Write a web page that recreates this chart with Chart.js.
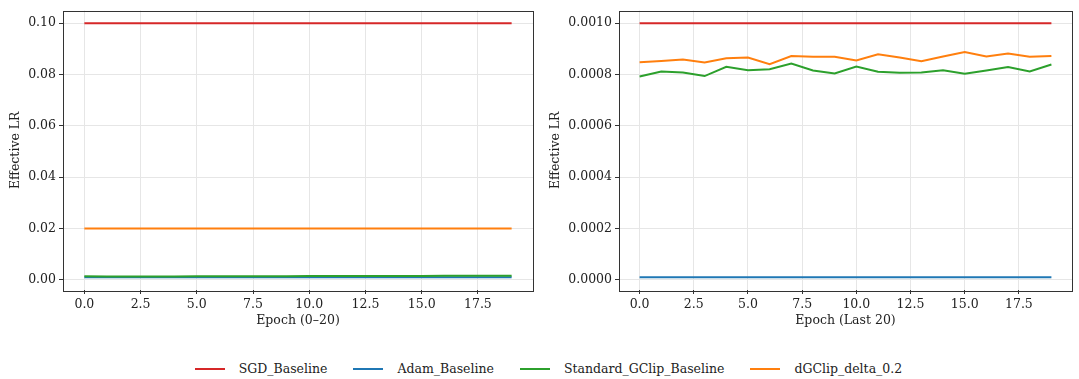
<!DOCTYPE html>
<html>
<head>
<meta charset="utf-8">
<script src="https://cdn.jsdelivr.net/npm/chart.js@4/dist/chart.umd.min.js"></script>
<style>
    html, body { margin: 0; padding: 0; background: #fff; }
    body { width: 1079px; height: 379px; position: relative; overflow: hidden; font-family: "DejaVu Serif", serif; }
    .panel { position: absolute; top: 0; height: 335px; }
    #left-panel { left: 0; width: 540px; }
    #right-panel { left: 540px; width: 539px; }
    #legend { position: absolute; top: 361px; left: 9px; width: 1079px; display: flex; justify-content: center; font-size: 12.5px; color: #222; }
    .item { display: flex; align-items: center; margin: 0 13px; }
    .swatch { width: 30px; height: 2px; margin-right: 14px; }
</style>
</head>
<body>
<div class="panel" id="left-panel"><canvas id="leftChart"></canvas></div>
<div class="panel" id="right-panel"><canvas id="rightChart"></canvas></div>
<div id="legend"></div>

<script>
// Data
const epochs = [0, 1, 2, 3, 4, 5, 6, 7, 8, 9, 10, 11, 12, 13, 14, 15, 16, 17, 18, 19];
const seriesNames = ['SGD_Baseline', 'Adam_Baseline', 'Standard_GClip_Baseline', 'dGClip_delta_0.2'];
const seriesColors = ['#d62728', '#1f77b4', '#2ca02c', '#ff7f0e'];

// Epoch (0-20)
const firstSgd = [0.1, 0.1, 0.1, 0.1, 0.1, 0.1, 0.1, 0.1, 0.1, 0.1, 0.1, 0.1, 0.1, 0.1, 0.1, 0.1, 0.1, 0.1, 0.1, 0.1];
const firstAdam = [0.001, 0.001, 0.001, 0.001, 0.001, 0.001, 0.001, 0.001, 0.001, 0.001, 0.001, 0.001, 0.001, 0.001, 0.001, 0.001, 0.001, 0.001, 0.001, 0.001];
const firstGclip = [0.0014, 0.0013, 0.0013, 0.0013, 0.0013, 0.0014, 0.0014, 0.0014, 0.0014, 0.0014, 0.0015, 0.0015, 0.0015, 0.0015, 0.0015, 0.0015, 0.0016, 0.0016, 0.0016, 0.0016];
const firstDgclip = [0.02, 0.02, 0.02, 0.02, 0.02, 0.02, 0.02, 0.02, 0.02, 0.02, 0.02, 0.02, 0.02, 0.02, 0.02, 0.02, 0.02, 0.02, 0.02, 0.02];

// Epoch (Last 20)
const lastSgd = [0.001, 0.001, 0.001, 0.001, 0.001, 0.001, 0.001, 0.001, 0.001, 0.001, 0.001, 0.001, 0.001, 0.001, 0.001, 0.001, 0.001, 0.001, 0.001, 0.001];
const lastAdam = [0.00001, 0.00001, 0.00001, 0.00001, 0.00001, 0.00001, 0.00001, 0.00001, 0.00001, 0.00001, 0.00001, 0.00001, 0.00001, 0.00001, 0.00001, 0.00001, 0.00001, 0.00001, 0.00001, 0.00001];
const lastGclip = [0.000792, 0.000812, 0.000808, 0.000794, 0.000830, 0.000817, 0.000821, 0.000843, 0.000816, 0.000804, 0.000831, 0.000811, 0.000807, 0.000808, 0.000817, 0.000803, 0.000816, 0.000829, 0.000812, 0.000839];
const lastDgclip = [0.000848, 0.000853, 0.000859, 0.000847, 0.000863, 0.000866, 0.000840, 0.000872, 0.000869, 0.000869, 0.000855, 0.000879, 0.000866, 0.000852, 0.000870, 0.000888, 0.000870, 0.000882, 0.000869, 0.000872];

const xTicks = [0, 2.5, 5, 7.5, 10, 12.5, 15, 17.5];
const firstYTicks = [0, 0.02, 0.04, 0.06, 0.08, 0.1];
const lastYTicks = [0, 0.0002, 0.0004, 0.0006, 0.0008, 0.001];

const FONT = { family: '"DejaVu Serif", serif', size: 12.5 };

// matplotlib-style box around the plot area
const framePlugin = {
    id: 'frame',
    afterDraw(chart) {
        const a = chart.chartArea;
        const ctx = chart.ctx;
        ctx.save();
        ctx.strokeStyle = '#333';
        ctx.lineWidth = 1;
        ctx.strokeRect(Math.round(a.left) + 0.5, Math.round(a.top) + 0.5,
            Math.round(a.right - a.left), Math.round(a.bottom - a.top));
        ctx.restore();
    }
};

function makeChart(id, seriesList, yTicks, yMin, yMax, decimals, xTitle, yAxisWidth) {
    const datasets = seriesList.map((values, i) => ({
        label: seriesNames[i],
        data: epochs.map((e, j) => ({ x: e, y: values[j] })),
        borderColor: seriesColors[i],
        backgroundColor: seriesColors[i],
        borderWidth: 2,
        pointRadius: 0,
        tension: 0,
        order: seriesList.length - i
    }));

    return new Chart(document.getElementById(id), {
        type: 'line',
        data: { datasets },
        plugins: [framePlugin],
        options: {
            responsive: true,
            maintainAspectRatio: false,
            animation: false,
            layout: { padding: { top: 7, right: 7, left: 0, bottom: 0 } },
            plugins: {
                legend: { display: false },
                tooltip: { enabled: false }
            },
            scales: {
                x: {
                    type: 'linear',
                    min: -0.95,
                    max: 19.95,
                    afterBuildTicks: scale => { scale.ticks = xTicks.map(v => ({ value: v })); },
                    afterFit: scale => { scale.height = 45; },
                    ticks: {
                        color: '#222',
                        font: FONT,
                        padding: 3,
                        maxRotation: 0,
                        callback: v => v.toFixed(1)
                    },
                    grid: { color: '#e6e6e6', tickColor: '#333', tickLength: 4 },
                    border: { display: false },
                    title: { display: true, text: xTitle, color: '#222', font: FONT, padding: { top: 0, bottom: 7 } }
                },
                y: {
                    min: yMin,
                    max: yMax,
                    afterBuildTicks: scale => { scale.ticks = yTicks.map(v => ({ value: v })); },
                    afterFit: scale => { scale.width = yAxisWidth; },
                    ticks: {
                        color: '#222',
                        font: FONT,
                        padding: 3,
                        callback: v => v.toFixed(decimals)
                    },
                    grid: { color: '#e6e6e6', tickColor: '#333', tickLength: 4 },
                    border: { display: false },
                    title: { display: true, text: 'Effective LR', color: '#222', font: FONT, padding: { top: 8, bottom: 2 } }
                }
            }
        }
    });
}

makeChart('leftChart', [firstSgd, firstAdam, firstGclip, firstDgclip],
    firstYTicks, -0.00395, 0.10495, 2, 'Epoch (0\u201320)', 63);
makeChart('rightChart', [lastSgd, lastAdam, lastGclip, lastDgclip],
    lastYTicks, -0.0000395, 0.0010495, 4, 'Epoch (Last 20)', 79);

// Shared legend under both panels
const legend = document.getElementById('legend');
seriesNames.forEach((name, i) => {
    const item = document.createElement('div');
    item.className = 'item';
    const sw = document.createElement('span');
    sw.className = 'swatch';
    sw.style.background = seriesColors[i];
    const label = document.createElement('span');
    label.textContent = name;
    item.appendChild(sw);
    item.appendChild(label);
    legend.appendChild(item);
});
</script>
</body>
</html>
